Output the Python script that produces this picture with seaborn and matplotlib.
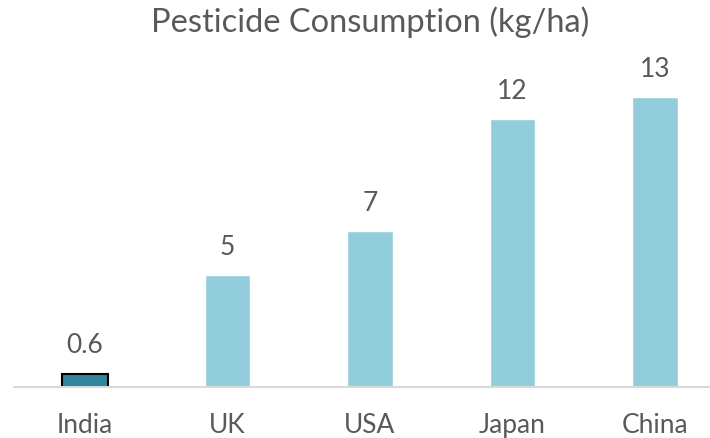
import seaborn as sns
import matplotlib.pyplot as plt
import pandas as pd

# chart data
countries = ['India', 'UK', 'USA', 'Japan', 'China']
consumption = [0.6, 5, 7, 12, 13]
value_labels = ['0.6', '5', '7', '12', '13']
bar_colors = ['#31859C', '#92CDDC', '#92CDDC', '#92CDDC', '#92CDDC']

df = pd.DataFrame({'country': countries, 'kg_ha': consumption})

sns.set_theme(style='white')
plt.rcParams['font.family'] = ['Lato', 'DejaVu Sans']
text_gray = '#595959'

fig = plt.figure(figsize=(7.1, 4.38), dpi=100)
ax = fig.add_axes([0.0194, 0.1165, 1.0033, 0.713])

sns.barplot(data=df, x='country', y='kg_ha', hue='country',
            palette=bar_colors, saturation=1, width=0.32, legend=False, ax=ax)

# India bar gets the dark outline
ax.patches[0].set_edgecolor('black')
ax.patches[0].set_linewidth(1.5)

for i, (v, lab) in enumerate(zip(consumption, value_labels)):
    ax.annotate(lab, (i, v), xytext=(0, 14.5), textcoords='offset points',
                ha='center', va='baseline', fontsize=19, color=text_gray)

ax.set_xlim(-0.5, 4.5)
ax.set_ylim(0, 14)
ax.set_xlabel('')
ax.set_ylabel('')
ax.set_yticks([])
ax.tick_params(axis='x', length=0, pad=19, labelsize=19, labelcolor=text_gray)
for side in ['top', 'right', 'left']:
    ax.spines[side].set_visible(False)
ax.spines['bottom'].set_color('#D9D9D9')
ax.spines['bottom'].set_linewidth(1.5)

fig.text(0.521, 0.95, 'Pesticide Consumption (kg/ha)', ha='center', va='center',
         fontsize=23.5, color=text_gray)

fig.savefig('out.png', dpi=100)
